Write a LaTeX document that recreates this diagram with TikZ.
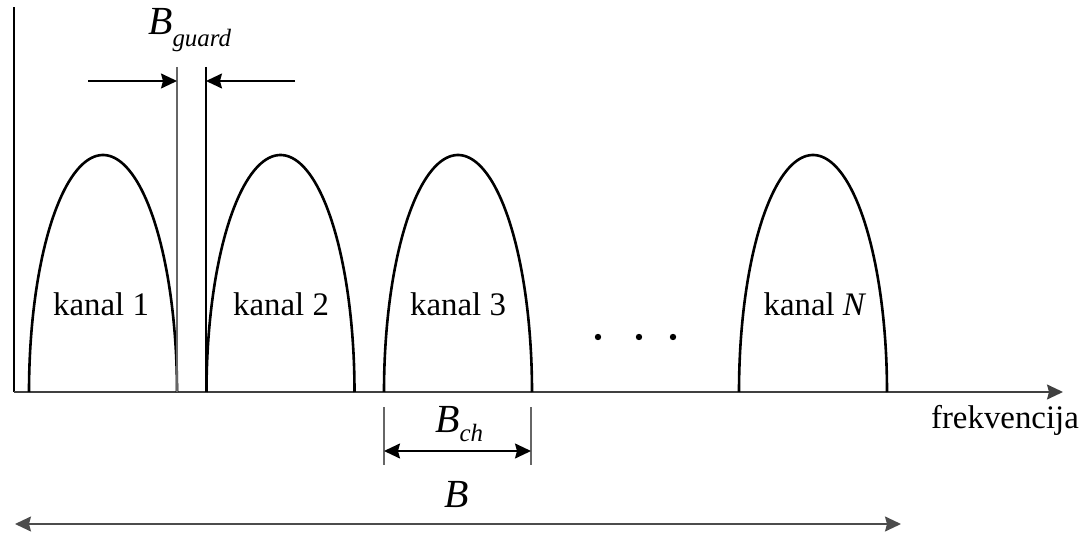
\documentclass[tikz,border=0pt]{standalone}
\usepackage{fontspec}
\setmainfont{Liberation Serif}
\usetikzlibrary{arrows.meta}
\begin{document}
\begin{tikzpicture}[x=1bp,y={(0,-1bp)},
  lbl/.style={anchor=base,inner sep=0pt,font=\fontsize{33}{38}\selectfont},
  lobe/.style={line width=2.6bp,black},
  guide/.style={line width=1.1bp},
  dim/.style={line width=1.6bp,-{Stealth[length=16bp,width=15bp,inset=2bp]}},
  dimboth/.style={line width=1.6bp,{Stealth[length=16bp,width=15bp,inset=2bp]}-{Stealth[length=16bp,width=15bp,inset=2bp]}},
  dotst/.style={fill=black,draw=none}]
\useasboundingbox (0,0) rectangle (1080,536);
% axes
\coordinate (yt) at (14,7);
\coordinate (o) at (14,392);
\coordinate (xe) at (1063,392);
\draw[line width=1.1bp] (o) -- (yt);
\draw[line width=1.6bp,black!75,-{Stealth[length=16bp,width=15bp,inset=2bp]}] (o) -- (xe);
% lobes
\foreach \c in {103,280.5,458,813}{
  \draw[lobe] plot[domain=0:180,samples=90,smooth] ({\c+74*cos(\x)},{392-237*sin(\x)});
}
% labels of channels
\node[lbl] (k1) at (101,316) {kanal 1};
\node[lbl] (k2) at (281,316) {kanal 2};
\node[lbl] (k3) at (458,316) {kanal 3};
\node[lbl] (kN) at (815,316) {kanal \textit{N}};
\node[lbl] (fr) at (1005,428) {frekvencija};
% dots
\fill[dotst] (598,337) circle (3.2);
\fill[dotst] (639,337) circle (3.2);
\fill[dotst] (673,337) circle (3.2);
% guard band
\coordinate (g1t) at (177,67); \coordinate (g1b) at (177,392);
\coordinate (g2t) at (206,67); \coordinate (g2b) at (206,392);
\draw[guide,black!60] (g1t) -- (g1b);
\draw[guide] (g2t) -- (g2b);
\coordinate (ga1) at (88,81); \coordinate (ga1e) at (177,81);
\coordinate (ga2) at (295,81); \coordinate (ga2e) at (206,81);
\draw[dim] (ga1) -- (ga1e);
\draw[dim] (ga2) -- (ga2e);
\node[lbl,anchor=base west] (bg) at (148,35) {\fontsize{40}{44}\selectfont\textit{B}\raisebox{-12bp}{\fontsize{25}{28}\selectfont\textit{guard}}};
% B_ch
\coordinate (c1t) at (384,407); \coordinate (c1b) at (384,465);
\coordinate (c2t) at (531,407); \coordinate (c2b) at (531,465);
\draw[guide,black!60] (c1t) -- (c1b);
\draw[guide,black!60] (c2t) -- (c2b);
\coordinate (ca1) at (384,451); \coordinate (ca2) at (531,451);
\draw[dimboth] (ca1) -- (ca2);
\node[lbl,anchor=base west] (bch) at (435,432) {\fontsize{40}{44}\selectfont\textit{B}\raisebox{-9bp}{\fontsize{25}{28}\selectfont\textit{ch}}};
% B
\coordinate (b1) at (15,524); \coordinate (b2) at (901,524);
\draw[dimboth,black!70] (b1) -- (b2);
\node[lbl] (bb) at (457,507) {\fontsize{40}{44}\selectfont\textit{B}};
\end{tikzpicture}
\end{document}
